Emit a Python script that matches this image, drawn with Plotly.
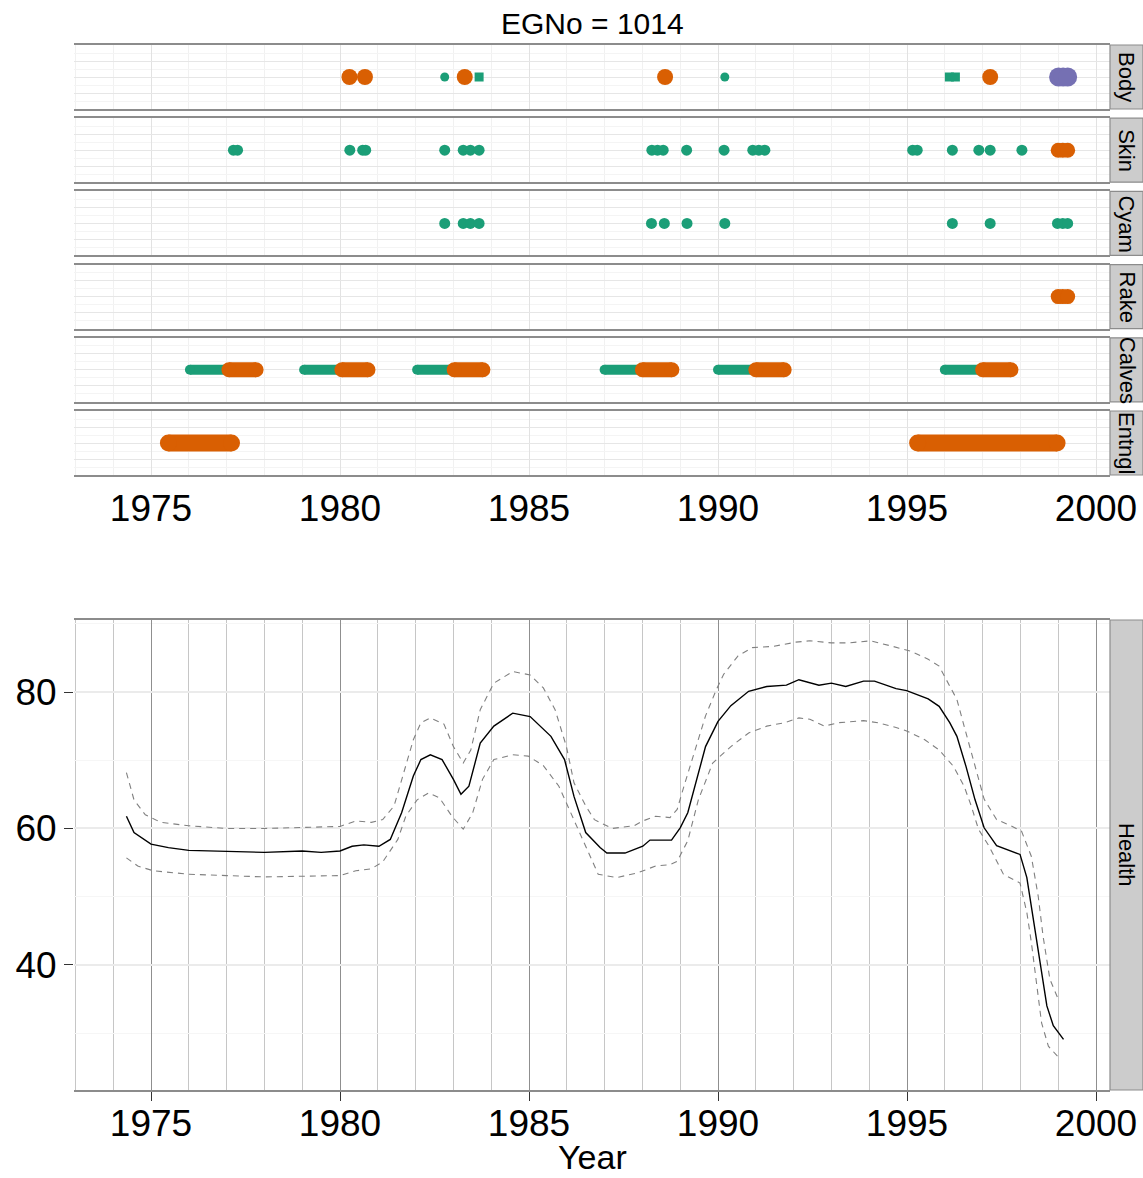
import plotly.graph_objects as go

W, H = 1143, 1178

# ---------------- data ----------------
title_text = "EGNo = 1014"
panels = ["Body", "Skin", "Cyam", "Rake", "Calves", "Entngl"]
year_ticks = [1975, 1980, 1985, 1990, 1995, 2000]
health_ticks = [40, 60, 80]

body_green_dot_x = [1982.77, 1990.18]
body_green_sq_x = [1983.68, 1996.12, 1996.28]
body_orange_x = [1980.25, 1980.66, 1983.3, 1988.6, 1997.2]
body_purple_x = [1999.01, 1999.13, 1999.25]

skin_green_x = [1977.18, 1977.29, 1980.26, 1980.6, 1980.68, 1982.77, 1983.26, 1983.45,
                1983.68, 1988.25, 1988.4, 1988.55, 1989.17, 1990.16, 1990.92, 1991.08,
                1991.24, 1995.15, 1995.27, 1996.2, 1996.9, 1997.2, 1998.04]
skin_orange_x = [1999.0, 1999.12, 1999.25]

cyam_green_x = [1982.77, 1983.26, 1983.45, 1983.68, 1988.24, 1988.58, 1989.18, 1990.18,
                1996.2, 1997.2, 1998.98, 1999.12, 1999.25]

rake_orange_x = [1999.0, 1999.12, 1999.25]

calves_green_start = [1976.03, 1979.05, 1982.04, 1987.0, 1990.0, 1996.0]
calves_green_end = [1977.0, 1980.0, 1983.0, 1988.0, 1991.0, 1997.0]
calves_orange_start = [1977.06, 1980.05, 1983.02, 1988.0, 1991.0, 1997.0]
calves_orange_end = [1977.78, 1980.74, 1983.78, 1988.78, 1991.75, 1997.75]

entng_orange_start = [1975.46, 1995.28]
entng_orange_end = [1977.13, 1998.97]

est_year = [1974.35, 1974.55, 1975.0, 1975.46, 1976.0, 1977.0, 1978.0, 1979.0, 1979.5, 1980.0,
            1980.32, 1980.63, 1981.03, 1981.33, 1981.63, 1981.94, 1982.14, 1982.39, 1982.7,
            1983.0, 1983.2, 1983.41, 1983.71, 1984.07, 1984.57, 1985.03, 1985.58, 1985.94,
            1986.19, 1986.5, 1986.88, 1987.06, 1987.54, 1988.01, 1988.2, 1988.77, 1989.0,
            1989.2, 1989.48, 1989.67, 1990.0, 1990.34, 1990.81, 1991.29, 1991.81, 1992.14,
            1992.67, 1993.0, 1993.38, 1993.85, 1994.14, 1994.71, 1994.99, 1995.56, 1995.85,
            1996.13, 1996.32, 1996.56, 1996.8, 1997.04, 1997.37, 1997.61, 1997.99, 1998.17,
            1998.34, 1998.52, 1998.7, 1998.87, 1999.14]
est_health = [61.8, 59.4, 57.7, 57.2, 56.8, 56.7, 56.5, 56.7, 56.5, 56.7,
              57.4, 57.6, 57.4, 58.4, 62.3, 67.7, 70.1, 70.8, 70.1,
              67.2, 65.0, 66.2, 72.5, 75.0, 76.9, 76.4, 73.5, 70.1,
              64.7, 59.4, 57.2, 56.4, 56.4, 57.4, 58.3, 58.3, 60.1,
              62.3, 68.2, 72.0, 75.7, 78.0, 80.1, 80.8, 81.0, 81.8,
              81.0, 81.3, 80.8, 81.6, 81.6, 80.5, 80.2, 79.0, 77.9,
              75.5, 73.5, 69.1, 64.2, 60.1, 57.5, 57.0, 56.2, 52.8,
              46.7, 40.3, 34.0, 31.1, 29.1]

up_year = [1974.35, 1974.55, 1974.85, 1975.26, 1976.0, 1977.0, 1978.0, 1979.0, 1980.0, 1980.42,
           1980.83, 1981.13, 1981.43, 1981.74, 1981.94, 1982.14, 1982.39, 1982.75, 1983.0,
           1983.26, 1983.46, 1983.71, 1984.07, 1984.57, 1985.03, 1985.38, 1985.69, 1985.99,
           1986.19, 1986.5, 1986.73, 1987.2, 1987.78, 1988.01, 1988.35, 1988.73, 1988.92,
           1989.1, 1989.4, 1989.67, 1989.96, 1990.15, 1990.53, 1990.91, 1991.48, 1992.05,
           1992.43, 1993.0, 1993.47, 1994.04, 1994.61, 1995.09, 1995.56, 1995.85, 1996.04,
           1996.32, 1996.56, 1996.8, 1997.04, 1997.37, 1997.75, 1998.03, 1998.29, 1998.47,
           1998.6, 1998.78, 1999.0]
up_health = [68.2, 64.2, 62.0, 60.9, 60.4, 60.0, 60.0, 60.2, 60.3, 61.1,
             60.9, 61.3, 63.3, 69.2, 73.0, 75.5, 76.2, 75.3, 72.0,
             69.6, 71.5, 77.4, 81.3, 83.0, 82.5, 80.6, 77.4, 72.0,
             66.7, 63.3, 61.3, 60.0, 60.4, 61.1, 61.8, 61.6, 62.8,
             66.2, 71.6, 76.5, 80.4, 82.6, 85.3, 86.5, 86.7, 87.3,
             87.5, 87.2, 87.2, 87.5, 86.7, 86.0, 84.8, 83.8, 81.8,
             78.9, 74.0, 69.2, 64.3, 61.3, 60.4, 59.6, 55.9, 50.1,
             44.2, 37.9, 35.0]

lo_year = [1974.35, 1974.65, 1975.06, 1976.0, 1977.0, 1978.0, 1979.0, 1980.0, 1980.42, 1980.83,
           1981.13, 1981.53, 1981.74, 1982.04, 1982.34, 1982.63, 1982.96, 1983.26, 1983.51,
           1983.77, 1984.07, 1984.57, 1984.98, 1985.38, 1985.79, 1986.19, 1986.5, 1986.83,
           1987.31, 1987.87, 1988.35, 1988.73, 1988.92, 1989.2, 1989.48, 1989.86, 1990.34,
           1990.81, 1991.29, 1991.76, 1992.14, 1992.43, 1992.81, 1993.19, 1993.85, 1994.23,
           1994.71, 1994.99, 1995.47, 1995.85, 1996.23, 1996.51, 1996.7, 1996.89, 1997.17,
           1997.55, 1997.99, 1998.17, 1998.29, 1998.43, 1998.56, 1998.74, 1999.05]
lo_health = [55.7, 54.5, 53.8, 53.3, 53.1, 52.9, 53.0, 53.1, 53.8, 54.1,
             55.1, 58.4, 61.8, 64.2, 65.2, 64.5, 61.8, 59.9, 62.3,
             67.2, 70.1, 70.8, 70.6, 69.2, 66.2, 61.3, 57.4, 53.3,
             52.8, 53.5, 54.5, 54.7, 55.2, 58.2, 64.2, 69.6, 72.0,
             74.0, 75.0, 75.5, 76.2, 76.0, 75.0, 75.5, 75.8, 75.5,
             74.8, 74.3, 73.0, 71.5, 69.1, 66.2, 63.3, 59.9, 57.4,
             53.3, 52.0, 47.7, 43.3, 37.4, 31.5, 28.1, 26.2]

# ---------------- styling ----------------
GREEN, ORANGE, PURPLE = "#1b9e77", "#d95f02", "#7570b3"
FONT = "Liberation Sans, Arial, Helvetica, sans-serif"
X_RANGE = [1972.963, 2000.37]
TOP_PX = [45, 118.2, 191.4, 264.6, 337.8, 411]
PANEL_H = 64
BOT_PX = (620, 1090)
XL, XR = 74 / W, 1110 / W

fig = go.Figure()


def pts(x, ax, color, size, symbol="circle"):
    fig.add_trace(go.Scatter(
        x=x, y=[0] * len(x), mode="markers", xaxis=f"x{ax}", yaxis=f"y{ax}",
        marker=dict(color=color, size=size, symbol=symbol, line=dict(width=0)),
        hoverinfo="skip", cliponaxis=False))


def segs(starts, ends, ax, color, width):
    xs, ys = [], []
    for s, e in zip(starts, ends):
        xs += [s, e, None]
        ys += [0, 0, None]
    fig.add_trace(go.Scatter(
        x=xs, y=ys, mode="lines+markers", xaxis=f"x{ax}", yaxis=f"y{ax}",
        line=dict(color=color, width=width),
        marker=dict(color=color, size=width, line=dict(width=0)),
        hoverinfo="skip", cliponaxis=False))


# Body
pts(body_green_dot_x, 1, GREEN, 9)
pts(body_green_sq_x, 1, GREEN, 9, "square")
pts(body_orange_x, 1, ORANGE, 16)
pts(body_purple_x, 1, PURPLE, 19)
# Skin
pts(skin_green_x, 2, GREEN, 11)
pts(skin_orange_x, 2, ORANGE, 15)
# Cyam
pts(cyam_green_x, 3, GREEN, 11)
# Rake
pts(rake_orange_x, 4, ORANGE, 15)
# Calves
segs(calves_green_start, calves_green_end, 5, GREEN, 10)
segs(calves_orange_start, calves_orange_end, 5, ORANGE, 15)
# Entng
segs(entng_orange_start, entng_orange_end, 6, ORANGE, 17)

# Health
fig.add_trace(go.Scatter(x=up_year, y=up_health, mode="lines", xaxis="x7", yaxis="y7",
                         line=dict(color="#808080", width=1.1, dash="6px,5px"), hoverinfo="skip"))
fig.add_trace(go.Scatter(x=lo_year, y=lo_health, mode="lines", xaxis="x7", yaxis="y7",
                         line=dict(color="#808080", width=1.1, dash="6px,5px"), hoverinfo="skip"))
fig.add_trace(go.Scatter(x=est_year, y=est_health, mode="lines", xaxis="x7", yaxis="y7",
                         line=dict(color="black", width=1.4), hoverinfo="skip"))

layout = dict(
    width=W, height=H, autosize=False,
    margin=dict(l=0, r=0, t=0, b=0, pad=0, autoexpand=False),
    plot_bgcolor="white", paper_bgcolor="white", showlegend=False,
    font=dict(family=FONT, color="black"),
)

shapes, annotations = [], []

for i in range(6):
    ax = i + 1
    top, bot = TOP_PX[i], TOP_PX[i] + PANEL_H
    last = (i == 5)
    layout[f"xaxis{ax}"] = dict(
        domain=[XL, XR], range=X_RANGE, anchor=f"y{ax}",
        tickmode="array", tickvals=year_ticks, ticktext=[str(t) for t in year_ticks],
        showgrid=True, gridcolor="#e2e2e2", gridwidth=1,
        minor=dict(dtick=1, tick0=1975, showgrid=True, gridcolor="#f1f1f1", gridwidth=1),
        showline=True, mirror=True, linecolor="#8c8c8c", linewidth=1.5, zeroline=False,
        showticklabels=last, ticks="",
        tickfont=dict(size=37, family=FONT, color="black"),
    )
    layout[f"yaxis{ax}"] = dict(
        domain=[1 - bot / H, 1 - top / H], range=[-2, 2], anchor=f"x{ax}",
        tickmode="array", tickvals=[-1, 0, 1],
        showgrid=True, gridcolor="#e6e6e6", gridwidth=1,
        minor=dict(tickmode="array", tickvals=[-1.5, -0.5, 0.5, 1.5], showgrid=True,
                   gridcolor="#f4f4f4", gridwidth=1),
        showticklabels=False, zeroline=False, showline=False, ticks="",
    )
    shapes.append(dict(type="rect", xref="paper", yref="paper",
                       x0=1110 / W, x1=1.0, y0=1 - bot / H, y1=1 - top / H,
                       fillcolor="#cccccc", line=dict(color="#8c8c8c", width=1.2), layer="above"))
    annotations.append(dict(xref="paper", yref="paper", x=1127 / W, y=1 - (top + bot) / 2 / H,
                            text=panels[i], showarrow=False, textangle=90,
                            font=dict(size=22, family=FONT, color="black"),
                            xanchor="center", yanchor="middle"))

layout["xaxis7"] = dict(
    domain=[XL, XR], range=X_RANGE, anchor="y7",
    tickmode="array", tickvals=year_ticks, ticktext=[str(t) for t in year_ticks],
    showgrid=True, gridcolor="#8f8f8f", gridwidth=1,
    minor=dict(dtick=1, tick0=1975, showgrid=True, gridcolor="#c6c6c6", gridwidth=1),
    showline=True, mirror=True, linecolor="#8c8c8c", linewidth=1.5, zeroline=False,
    ticks="outside", ticklen=9, tickcolor="#333333", tickwidth=1, ticklabelstandoff=-9,
    tickfont=dict(size=37, family=FONT, color="black"),
)
layout["yaxis7"] = dict(
    domain=[1 - BOT_PX[1] / H, 1 - BOT_PX[0] / H], range=[21.68, 90.55], anchor="x7",
    tickmode="array", tickvals=health_ticks, ticktext=[str(t) for t in health_ticks],
    showgrid=True, gridcolor="#ebebeb", gridwidth=1.5,
    minor=dict(tickmode="array", tickvals=[30, 50, 70, 90], showgrid=True,
               gridcolor="#f6f6f6", gridwidth=1),
    showline=False, zeroline=False, ticks="outside", ticklen=9, tickcolor="#333333",
    tickfont=dict(size=37, family=FONT, color="black"),
)
shapes.append(dict(type="rect", xref="paper", yref="paper",
                   x0=1110 / W, x1=1.0, y0=1 - BOT_PX[1] / H, y1=1 - BOT_PX[0] / H,
                   fillcolor="#cccccc", line=dict(color="#8c8c8c", width=1.2), layer="above"))
annotations.append(dict(xref="paper", yref="paper", x=1127 / W, y=1 - (BOT_PX[0] + BOT_PX[1]) / 2 / H,
                        text="Health", showarrow=False, textangle=90,
                        font=dict(size=22, family=FONT, color="black"),
                        xanchor="center", yanchor="middle"))
annotations.append(dict(xref="paper", yref="paper", x=592 / W, y=1 - 24 / H,
                        text=title_text, showarrow=False,
                        font=dict(size=30, family=FONT, color="black"),
                        xanchor="center", yanchor="middle"))
annotations.append(dict(xref="paper", yref="paper", x=592 / W, y=1 - 1157 / H,
                        text="Year", showarrow=False,
                        font=dict(size=34, family=FONT, color="black"),
                        xanchor="center", yanchor="middle"))

layout["shapes"] = shapes
layout["annotations"] = annotations
fig.update_layout(**layout)

fig.write_html("out.html")
